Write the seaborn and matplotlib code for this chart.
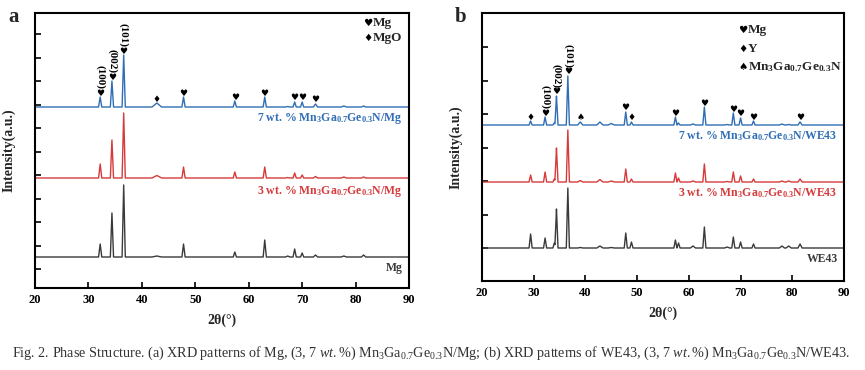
import numpy as np
import pandas as pd
import matplotlib
matplotlib.use("Agg")
import matplotlib.pyplot as plt
import seaborn as sns

# ── Data (peak positions in 2θ, heights in a.u.) ──────────────────────
a_pos = [32.2, 34.4, 36.6, 42.8, 47.8, 57.4, 63.0, 67.3, 68.6, 70.0, 72.5, 77.8, 81.5]
a_wid = [0.3, 0.3, 0.3, 0.9, 0.3, 0.3, 0.3, 0.4, 0.3, 0.3, 0.4, 0.5, 0.4]
a_mg = [13, 44, 72, 1, 13, 5, 17, 1, 8, 4, 2, 1, 2]
a_3wt = [14, 38, 65, 2.5, 11, 6, 11, 0.5, 5, 3, 1.5, 1, 1]
a_7wt = [10, 26, 52, 4, 10, 6, 10, 0.5, 5, 5, 3, 1, 1]
a_offsets = [31, 110, 181]

b_pos = [29.4, 32.2, 34.0, 34.4, 36.6, 39.0, 42.8, 45.0, 47.8, 48.9, 57.4, 58.0,
         60.8, 63.0, 67.4, 68.6, 70.0, 72.5, 78.0, 79.3, 81.5]
b_wid = [0.3, 0.3, 0.3, 0.3, 0.3, 0.5, 0.6, 0.6, 0.3, 0.3, 0.3, 0.3,
         0.5, 0.3, 0.5, 0.3, 0.3, 0.3, 0.5, 0.5, 0.4]
b_we43 = [14, 10, 5, 39, 60, 0.5, 2, 0.5, 15, 6, 8, 5, 2, 21, 1, 11, 6, 4, 2, 2, 4]
b_3wt = [7, 10, 3, 34, 52, 1.5, 2.5, 1, 13, 3, 9, 4, 1, 18, 0.5, 10, 6, 3, 1, 1, 3]
b_7wt = [4, 8, 2, 29, 49, 3, 3, 1.5, 13, 3, 8, 2, 1, 18, 0.5, 12, 7, 4, 1, 0.5, 3]
b_offsets = [33, 99, 156]

# markers on the top pattern: (2θ, glyph, hkl label)
a_marks = [(32.2, "♥", "(100)"), (34.4, "♥", "(002)"), (36.6, "♥", "(101)"),
           (42.8, "♦", ""), (47.8, "♥", ""), (57.4, "♥", ""), (63.0, "♥", ""),
           (68.6, "♥", ""), (70.0, "♥", ""), (72.5, "♥", "")]
b_marks = [(29.4, "♦", ""), (32.2, "♥", "(100)"), (34.4, "♥", "(002)"),
           (36.6, "♥", "(101)"), (39.0, "♠", ""), (47.8, "♥", ""), (48.9, "♦", ""),
           (57.4, "♥", ""), (63.0, "♥", ""), (68.6, "♥", ""), (70.0, "♥", ""),
           (72.5, "♥", ""), (81.5, "♥", "")]

CMP = r"Mn$_3$Ga$_{0.7}$Ge$_{0.3}$N"
a_labels = ["Mg", f"3 wt. % {CMP}/Mg", f"7 wt. % {CMP}/Mg"]
b_labels = ["WE43", f"3 wt. % {CMP}/WE43", f"7 wt. % {CMP}/WE43"]
a_legend = [("♥", "Mg"), ("♦", "MgO")]
b_legend = [("♥", "Mg"), ("♦", "Y"), ("♠", CMP)]

COLORS = ["#3a3a3a", "#d63a3a", "#2f6eb5"]

# ── Style ─────────────────────────────────────────────────────────────
sns.set_theme(style="ticks")
plt.rcParams.update({
    "font.family": ["Liberation Serif", "DejaVu Sans"],
    "mathtext.default": "regular",
    "mathtext.fontset": "custom",
    "mathtext.rm": "Liberation Serif",
    "mathtext.it": "Liberation Serif:italic",
    "mathtext.bf": "Liberation Serif:bold",
    "axes.linewidth": 1.5,
    "axes.edgecolor": "black",
})
GLYPH = ["DejaVu Sans"]


def profile(pos, wid, heights):
    pos = np.asarray(pos, float)
    wid = np.asarray(wid, float)
    xs = np.unique(np.concatenate([[20.0, 90.0], pos - wid, pos, pos + wid]))
    ys = np.zeros_like(xs)
    for p, w, h in zip(pos, wid, heights):
        ys += np.clip(h * (1 - np.abs(xs - p) / w), 0, None)
    return xs, ys


def draw_panel(ax, pos, wid, series, offsets, labels, marks, legend,
               ylim, yticks, lab_y, leg_x, leg_y, leg_dy):
    for heights, off, col in zip(series, offsets, COLORS):
        xs, ys = profile(pos, wid, heights)
        df = pd.DataFrame({"x": xs, "y": ys + off})
        sns.lineplot(data=df, x="x", y="y", ax=ax, color=col, lw=1.0,
                     estimator=None)

    top_h = dict(zip(pos, series[2]))
    for p, g, hkl in marks:
        yy = offsets[2] + top_h[p] + 4
        ax.text(p, yy, g, family=GLYPH, fontsize=6.5, ha="center", va="center",
                color="black")
        if hkl:
            ax.text(p, yy + 4, hkl, fontsize=8, fontweight="bold", rotation=-90,
                    ha="center", va="bottom", color="black")

    for lab, ly, col in zip(labels, lab_y, COLORS):
        ax.text(88.8, ly, lab, fontsize=8.5, fontweight="bold", ha="right",
                va="center", color=col)

    for i, (g, lab) in enumerate(legend):
        y = leg_y - i * leg_dy
        ax.text(leg_x, y, g, family=GLYPH, fontsize=7.5, ha="center",
                va="center", color="black")
        ax.text(leg_x + 0.9, y, lab, fontsize=9.5, fontweight="bold",
                ha="left", va="center")

    ax.set_xlim(20, 90)
    ax.set_ylim(*ylim)
    ax.set_xticks(range(20, 91, 10))
    ax.set_yticks(yticks)
    ax.set_yticklabels([])
    ax.tick_params(direction="in", length=4, width=1.2, labelsize=9,
                   pad=4, colors="black")
    for t in ax.get_xticklabels():
        t.set_fontweight("bold")
    ax.set_xlabel("2θ(°)", fontsize=10, fontweight="bold", labelpad=6)
    ax.set_ylabel("Intensity(a.u.)", fontsize=10, fontweight="bold",
                  labelpad=10)
    for s in ax.spines.values():
        s.set_visible(True)
        s.set_linewidth(1.5)


fig = plt.figure(figsize=(8.65, 3.7), dpi=100)
fig.patch.set_facecolor("white")

ax_a = fig.add_axes([35 / 865, 82 / 370, 374 / 865, 275 / 370])
draw_panel(ax_a, a_pos, a_wid, [a_mg, a_3wt, a_7wt], a_offsets, a_labels,
           a_marks, a_legend, (0, 275), np.arange(19, 260, 23.5),
           [20, 97, 170], 82.3, 265, 15)

ax_b = fig.add_axes([482 / 865, 89 / 370, 362 / 865, 268 / 370])
draw_panel(ax_b, b_pos, b_wid, [b_we43, b_3wt, b_7wt], b_offsets, b_labels,
           b_marks, b_legend, (0, 268), np.arange(33, 240, 33.5),
           [22, 88, 145], 70.5, 251, 18.5)

fig.text(8 / 865, 1 - 17 / 370, "a", fontsize=15, fontweight="bold",
         ha="left", va="center")
fig.text(455 / 865, 1 - 17 / 370, "b", fontsize=15, fontweight="bold",
         ha="left", va="center")

caption = ("Fig. 2. Phase Structure. (a) XRD patterns of Mg, (3, 7 $\\mathit{wt.}$%) "
           f"{CMP}/Mg; (b) XRD patterns of WE43, (3, 7 $\\mathit{{wt.}}$%) {CMP}/WE43.")
fig.text(431 / 865, 1 - 353 / 370, caption, fontsize=10.2, fontweight="normal",
         ha="center", va="center", color="#333333")

fig.savefig("out.png", dpi=100)
